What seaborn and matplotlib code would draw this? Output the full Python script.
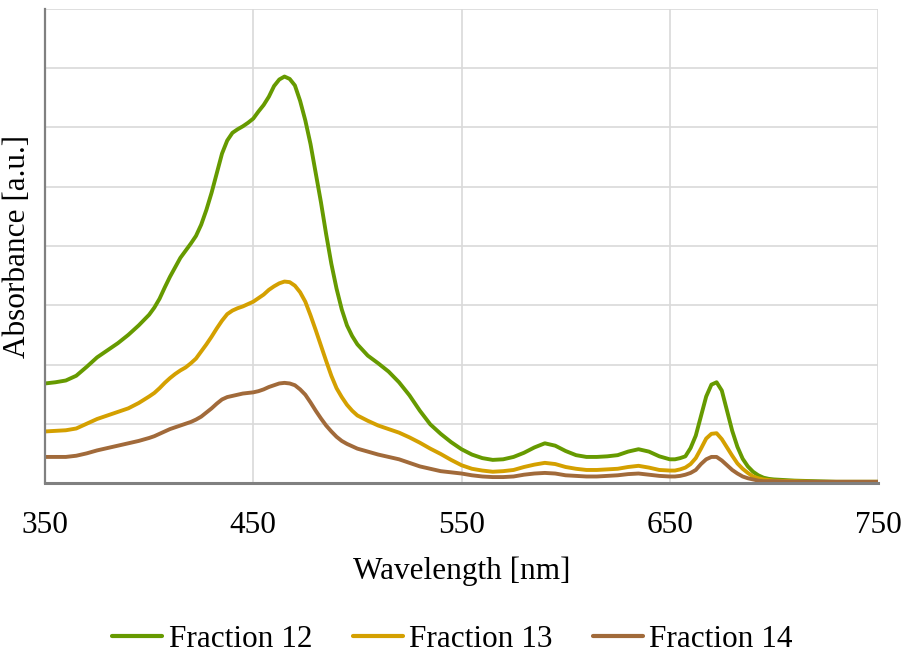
import numpy as np
import pandas as pd
import matplotlib
matplotlib.use("Agg")
import matplotlib.pyplot as plt
import seaborn as sns

# Absorption spectra of three chromatography fractions (arbitrary units)
wavelength = [350, 355, 360, 365, 370, 375, 380, 385, 390, 395,
              400, 402.5, 405, 407.5, 410, 412.5, 415, 417.5, 420, 422.5,
              425, 427.5, 430, 432.5, 435, 437.5, 440, 442.5, 445, 447.5,
              450, 452.5, 455, 457.5, 460, 462.5, 465, 467.5, 470, 472.5,
              475, 477.5, 480, 482.5, 485, 487.5, 490, 492.5, 495, 497.5,
              500,
              505, 510, 515, 520, 525, 530, 535, 540, 545, 550,
              555, 560, 565, 570, 575, 580, 585, 590, 595, 600,
              605, 610, 615, 620, 625, 630, 635, 640, 645,
              650, 652.5, 655, 657.5, 660, 662.5, 665, 667.5, 670, 672.5,
              675, 677.5, 680, 682.5, 685, 687.5, 690, 692.5, 695, 697.5,
              700,
              710, 720, 730, 740, 750]

fraction_12 = [0.168, 0.170, 0.173, 0.181, 0.196, 0.212, 0.224, 0.236, 0.250, 0.266,
               0.284, 0.296, 0.311, 0.330, 0.348, 0.364, 0.380, 0.392, 0.404, 0.417,
               0.436, 0.461, 0.490, 0.523, 0.556, 0.578, 0.591, 0.597, 0.602, 0.608,
               0.615, 0.627, 0.638, 0.652, 0.670, 0.681, 0.686, 0.682, 0.671, 0.645,
               0.612, 0.572, 0.523, 0.474, 0.420, 0.370, 0.328, 0.293, 0.266, 0.248,
               0.234,
               0.215, 0.202, 0.188, 0.170, 0.148, 0.122, 0.099, 0.083, 0.069, 0.057,
               0.048, 0.042, 0.039, 0.040, 0.044, 0.051, 0.060, 0.067, 0.063, 0.054,
               0.047, 0.044, 0.044, 0.045, 0.047, 0.053, 0.057, 0.053, 0.045,
               0.040, 0.040, 0.042, 0.045, 0.059, 0.080, 0.113, 0.146, 0.166, 0.170,
               0.156, 0.122, 0.088, 0.061, 0.041, 0.028, 0.019, 0.013, 0.009, 0.007,
               0.006,
               0.004, 0.003, 0.002, 0.002, 0.002]

fraction_13 = [0.087, 0.088, 0.089, 0.092, 0.100, 0.108, 0.114, 0.120, 0.126, 0.135,
               0.146, 0.152, 0.160, 0.169, 0.177, 0.184, 0.190, 0.195, 0.202, 0.210,
               0.222, 0.234, 0.247, 0.261, 0.274, 0.285, 0.291, 0.295, 0.298, 0.302,
               0.306, 0.312, 0.318, 0.326, 0.332, 0.337, 0.340, 0.339, 0.333, 0.322,
               0.306, 0.283, 0.258, 0.232, 0.206, 0.181, 0.160, 0.145, 0.132, 0.122,
               0.114,
               0.105, 0.097, 0.091, 0.085, 0.077, 0.068, 0.058, 0.049, 0.039, 0.030,
               0.024, 0.021, 0.019, 0.020, 0.022, 0.027, 0.031, 0.034, 0.032, 0.027,
               0.024, 0.022, 0.022, 0.023, 0.024, 0.027, 0.029, 0.026, 0.022,
               0.021, 0.021, 0.023, 0.026, 0.032, 0.042, 0.058, 0.075, 0.083, 0.084,
               0.074, 0.060, 0.046, 0.033, 0.024, 0.017, 0.011, 0.008, 0.006, 0.005,
               0.004,
               0.003, 0.002, 0.002, 0.002, 0.002]

fraction_14 = [0.044, 0.044, 0.044, 0.046, 0.050, 0.055, 0.059, 0.063, 0.067, 0.071,
               0.076, 0.079, 0.083, 0.087, 0.091, 0.094, 0.097, 0.100, 0.103, 0.107,
               0.112, 0.119, 0.126, 0.134, 0.141, 0.145, 0.147, 0.149, 0.151, 0.152,
               0.153, 0.155, 0.158, 0.162, 0.165, 0.168, 0.169, 0.168, 0.165, 0.158,
               0.149, 0.136, 0.122, 0.109, 0.097, 0.087, 0.078, 0.071, 0.066, 0.062,
               0.058,
               0.053, 0.048, 0.044, 0.040, 0.034, 0.028, 0.024, 0.020, 0.018, 0.016,
               0.013, 0.011, 0.010, 0.010, 0.011, 0.014, 0.016, 0.017, 0.016, 0.013,
               0.012, 0.011, 0.011, 0.012, 0.013, 0.015, 0.016, 0.014, 0.012,
               0.011, 0.011, 0.012, 0.014, 0.017, 0.022, 0.032, 0.040, 0.044, 0.044,
               0.038, 0.030, 0.022, 0.016, 0.011, 0.008, 0.006, 0.004, 0.003, 0.003,
               0.003,
               0.002, 0.002, 0.002, 0.002, 0.002]

series_names = ["Fraction 12", "Fraction 13", "Fraction 14"]
series_colors = ["#669a00", "#d4a000", "#a16a3a"]

x_ticks = [350, 450, 550, 650, 750]

frames = []
for name, vals in zip(series_names, [fraction_12, fraction_13, fraction_14]):
    frames.append(pd.DataFrame({"Wavelength": wavelength, "Absorbance": vals, "Series": name}))
df = pd.concat(frames, ignore_index=True)

sns.set_theme(style="white")
plt.rcParams["font.family"] = ["Liberation Serif", "DejaVu Serif"]
plt.rcParams["text.color"] = "black"

fig = plt.figure(figsize=(9.05, 6.57), dpi=100)
ax = fig.add_axes([45 / 905, 1 - 483 / 657, (878 - 45) / 905, (483 - 9) / 657])

sns.lineplot(data=df, x="Wavelength", y="Absorbance", hue="Series",
             hue_order=series_names, palette=series_colors, linewidth=2.8,
             ax=ax, legend=False, zorder=3)
for line in ax.lines:
    line.set_solid_joinstyle("round")
    line.set_solid_capstyle("round")

ax.set_xlim(350, 750)
ax.set_ylim(0, 0.8)
ax.set_xticks(x_ticks)
ax.set_xticklabels([str(t) for t in x_ticks])
ax.set_yticks(np.arange(0, 0.81, 0.1))
ax.set_yticklabels([])
ax.tick_params(axis="both", length=0, labelsize=22.5, colors="black")
ax.tick_params(axis="x", pad=20)

ax.grid(True, color="#d9d9d9", linewidth=1.2, zorder=0)
ax.set_axisbelow(True)
for side in ["top", "right"]:
    ax.spines[side].set_visible(False)
ax.spines["left"].set_color("#808080")
ax.spines["left"].set_linewidth(1.6)
ax.spines["bottom"].set_color("#808080")
ax.spines["bottom"].set_linewidth(2.2)
ax.spines["left"].set_zorder(4)
ax.spines["bottom"].set_zorder(4)

ax.set_xlabel("Wavelength [nm]", fontsize=22.5, color="black", labelpad=12)
ax.set_ylabel("Absorbance [a.u.]", fontsize=22.5, color="black", labelpad=6)

handles = [plt.Line2D([], [], color=c, linewidth=3) for c in series_colors]
fig.legend(handles, series_names, loc="center", bbox_to_anchor=(0.5, 0.027),
           ncol=3, frameon=False, fontsize=22.5, handlelength=1.6,
           handletextpad=0.2, columnspacing=1.3, labelcolor="black")

fig.savefig("out.png", dpi=100)
